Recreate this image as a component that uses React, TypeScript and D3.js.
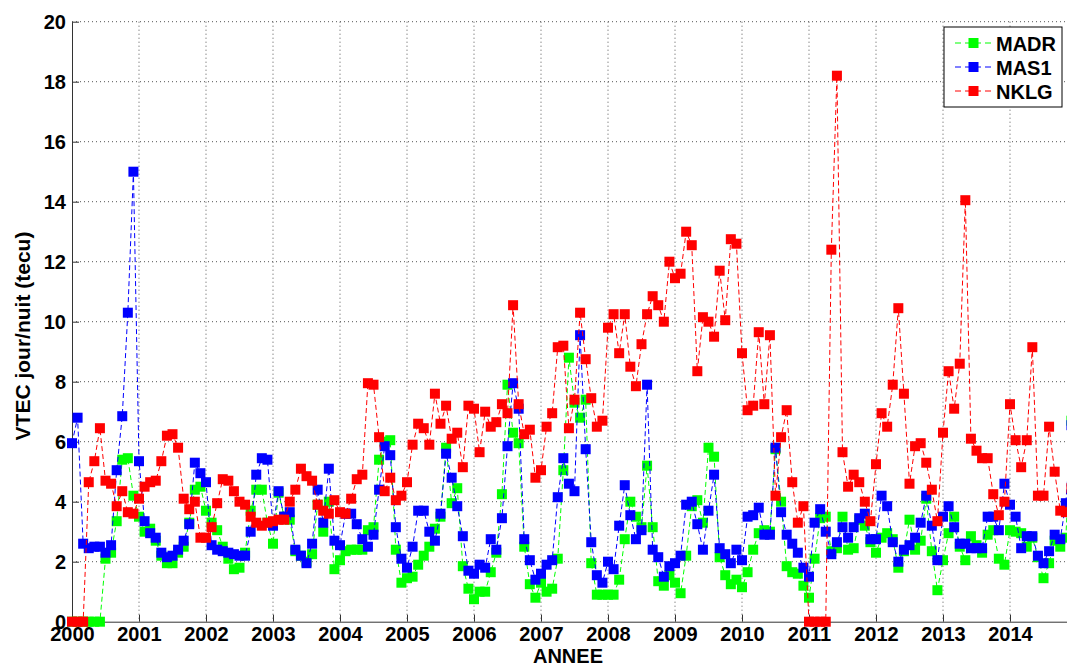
import { useEffect, useRef } from "react";
import * as d3 from "d3";

const W = 1067;
const H = 666;
const FONT = "'Liberation Sans', Arial, Helvetica, sans-serif";

// monthly values, one row per year (Jan..Dec), starting January 2000
const MADR = [
  0, 0, 0, 0, 0, 0, 2.1, 2.3, 3.35, 5.4, 5.45, 4.2,
  3.5, 3.0, 3.1, 2.7, 2.2, 1.95, 1.95, 2.3, 2.5, 3.3, 4.4, 4.5,
  3.7, 3.3, 3.05, 2.5, 2.1, 1.75, 1.8, 2.3, 3.7, 4.4, 4.4, 3.3,
  2.6, 4.3, 3.5, 3.4, 2.35, 2.2, 2.0, 2.25, 3.9, 3.0, 4.0, 1.75,
  2.05, 2.35, 2.4, 2.4, 2.4, 3.05, 3.15, 5.4, 6.0, 6.05, 2.4, 1.3,
  1.45, 1.5, 1.9, 2.2, 2.5, 3.1, 3.5, 5.8, 3.95, 4.45, 1.85, 1.1,
  0.75, 1.0, 1.0, 1.65, 2.3, 4.25, 7.9, 6.3, 5.95, 2.5, 1.25, 0.8,
  1.3, 1.0, 1.1, 2.1, 5.05, 8.8, 7.3, 6.8, 7.4, 1.95, 0.9, 0.9,
  0.9, 0.9, 1.4, 2.75, 4.0, 3.5, 3.15, 5.2, 3.15, 1.35, 1.2, 1.55,
  1.3, 0.95, 2.2, 3.85, 4.05, 3.3, 5.8, 5.5, 2.15, 1.55, 1.25, 1.4,
  1.15, 1.65, 2.4, 2.95, 3.05, 3.0, 5.75, 4.0, 1.85, 1.65, 1.6, 1.2,
  0.8, 2.1, 3.45, 3.5, 2.35, 2.45, 3.5, 2.4, 2.45, 3.4, 3.2, 2.65,
  2.3, 2.8, 2.95, 2.75, 1.8, 2.35, 3.4, 2.4, 2.7, 4.1, 2.35, 1.05,
  2.05, 2.95, 3.5, 2.5, 2.05, 2.85, 2.55, 2.3, 2.9, 3.05, 2.1, 1.9,
  3.05, 3.0, 2.95, 2.5, 2.8, 2.15, 1.45, 1.95, 2.7, 2.5, 2.8, 6.7,
];

const MAS1 = [
  5.95, 6.8, 2.6, 2.45, 2.5, 2.5, 2.3, 2.55, 5.05, 6.85, 10.3, 15.0,
  5.35, 3.35, 2.95, 2.8, 2.3, 2.15, 2.2, 2.4, 2.7, 3.25, 5.3, 4.95,
  4.65, 2.55, 2.4, 2.35, 2.3, 2.25, 2.2, 2.2, 3.0, 4.9, 5.45, 5.4,
  3.2, 4.35, 3.5, 3.65, 2.4, 2.2, 1.95, 2.6, 4.4, 3.3, 5.1, 2.7,
  2.55, 3.6, 3.6, 3.25, 2.75, 2.5, 2.9, 4.4, 5.85, 5.55, 3.15, 2.1,
  1.8, 2.5, 3.7, 3.7, 3.0, 2.7, 3.6, 5.6, 4.8, 3.85, 2.85, 1.7,
  1.6, 1.9, 1.8, 2.75, 2.4, 3.45, 5.85, 7.95, 7.1, 2.75, 2.05, 1.4,
  1.6, 1.9, 2.05, 4.15, 5.45, 4.6, 4.35, 9.55, 5.75, 2.65, 1.55, 1.3,
  2.0, 1.75, 3.2, 4.55, 3.55, 2.75, 3.05, 7.9, 2.4, 2.15, 1.5, 1.85,
  1.95, 2.2, 3.9, 4.0, 3.25, 2.4, 3.7, 4.9, 2.45, 2.25, 1.95, 2.4,
  2.05, 3.5, 3.55, 3.8, 2.9, 2.9, 5.8, 3.65, 2.9, 2.6, 2.3, 1.8,
  1.5, 3.3, 3.75, 3.0, 2.25, 2.65, 3.15, 2.8, 3.15, 3.45, 3.6, 2.75,
  2.75, 4.2, 3.85, 2.65, 2.0, 2.4, 2.55, 2.8, 3.3, 4.2, 3.2, 2.05,
  3.5, 3.85, 3.15, 2.6, 2.6, 2.45, 2.45, 2.45, 3.5, 3.5, 3.05, 4.6,
  3.9, 3.5, 2.45, 2.85, 2.85, 2.2, 1.95, 2.35, 2.9, 2.75, 3.95, 6.55,
];

const NKLG = [
  0, 0, 0, 4.65, 5.35, 6.45, 4.7, 4.6, 3.85, 4.35, 3.65, 3.6,
  4.1, 4.5, 4.65, 4.7, 5.35, 6.2, 6.25, 5.8, 4.1, 3.75, 4.0, 2.8,
  2.8, 3.15, 3.95, 4.75, 4.7, 4.35, 4.0, 3.9, 3.5, 3.3, 3.2, 3.3,
  3.35, 3.4, 3.4, 4.0, 4.4, 5.1, 4.85, 4.7, 3.9, 3.7, 3.6, 4.05,
  3.65, 3.6, 4.1, 4.75, 4.9, 7.95, 7.9, 6.15, 4.35, 4.8, 4.05, 4.2,
  4.65, 5.9, 6.6, 6.45, 5.9, 7.6, 6.6, 7.2, 6.1, 6.3, 5.15, 7.2,
  7.1, 5.65, 7.0, 6.5, 6.65, 7.25, 6.95, 10.55, 7.25, 6.25, 6.4, 4.8,
  5.05, 6.5, 6.95, 9.15, 9.2, 6.45, 7.4, 10.3, 8.75, 7.45, 6.5, 6.7,
  9.8, 10.25, 8.95, 10.25, 8.5, 7.85, 9.25, 10.25, 10.85, 10.55, 10.0, 12.0,
  11.45, 11.6, 13.0, 12.55, 8.35, 10.15, 10.0, 9.5, 11.7, 10.05, 12.75, 12.6,
  8.95, 7.05, 7.2, 9.65, 7.25, 9.55, 4.2, 6.15, 7.05, 4.65, 3.3, 3.85,
  0, 0, 0, 0, 12.4, 18.2, 5.65, 4.5, 4.9, 4.65, 4.0, 3.35,
  5.25, 6.95, 6.5, 7.9, 10.45, 7.6, 4.6, 5.85, 5.95, 5.3, 4.4, 3.35,
  6.3, 8.35, 7.1, 8.6, 14.05, 6.1, 5.7, 5.45, 5.45, 4.25, 3.55, 4.0,
  7.25, 6.05, 5.15, 6.05, 9.15, 4.2, 4.2, 6.5, 5.0, 3.7, 3.65, 4.45,
];

const SERIES = [
  { name: "MADR", values: MADR, color: "#00ff00" },
  { name: "MAS1", values: MAS1, color: "#0000ff" },
  { name: "NKLG", values: NKLG, color: "#ff0000" },
];

const YEARS = d3.range(2000, 2015);
const Y_TICKS = d3.range(0, 21, 2);

export default function App() {
  const svgRef = useRef<SVGSVGElement>(null);

  useEffect(() => {
    if (!svgRef.current) return;
    const root = d3.select(svgRef.current);
    root.selectAll("*").remove();

    const x = d3.scaleLinear().domain([2000, 2015]).range([72, 1077]);
    const y = d3.scaleLinear().domain([0, 20]).range([621.7, 21.7]);
    const [x0] = x.range();
    const [yb, yt] = y.range();

    root.append("rect").attr("width", W).attr("height", H).attr("fill", "white");

    // dotted grid
    const grid = root.append("g").attr("stroke", "#555").attr("stroke-width", 1).attr("stroke-dasharray", "1,3");
    Y_TICKS.filter((t) => t > 0).forEach((t) => {
      grid.append("line").attr("x1", x0).attr("x2", W).attr("y1", y(t)).attr("y2", y(t));
    });
    YEARS.filter((t) => t > 2000).forEach((t) => {
      grid.append("line").attr("x1", x(t)).attr("x2", x(t)).attr("y1", yt).attr("y2", yb);
    });

    // axes
    const xAxis = root
      .append("g")
      .attr("transform", `translate(0,${yb})`)
      .call(d3.axisBottom(x).tickValues(YEARS).tickFormat(d3.format("d")).tickSize(-7).tickSizeOuter(0).tickPadding(5));
    const yAxis = root
      .append("g")
      .attr("transform", `translate(${x0},0)`)
      .call(d3.axisLeft(y).tickValues(Y_TICKS).tickFormat(d3.format("d")).tickSize(-7).tickSizeOuter(0).tickPadding(6));
    [xAxis, yAxis].forEach((g) => {
      g.attr("font-family", FONT).attr("font-size", 20).attr("font-weight", "bold");
      g.selectAll("text").attr("fill", "#000");
      g.selectAll("line").attr("stroke", "#333");
      g.select(".domain").attr("stroke", "#333");
    });

    // series: dashed line then square markers, in plotting order
    const M = 10;
    SERIES.forEach((s) => {
      const pts = s.values.map((v, i) => [2000 + i / 12, v] as [number, number]);
      const line = d3
        .line<[number, number]>()
        .x((d) => x(d[0]))
        .y((d) => y(d[1]));
      root
        .append("path")
        .attr("d", line(pts))
        .attr("fill", "none")
        .attr("stroke", s.color)
        .attr("stroke-width", 1)
        .attr("stroke-dasharray", "5,3");
      root
        .append("g")
        .selectAll("rect")
        .data(pts)
        .join("rect")
        .attr("x", (d) => x(d[0]) - M / 2)
        .attr("y", (d) => y(d[1]) - M / 2)
        .attr("width", M)
        .attr("height", M)
        .attr("fill", s.color);
    });

    // axis titles
    root
      .append("text")
      .attr("x", 568)
      .attr("y", 662.5)
      .attr("text-anchor", "middle")
      .attr("font-family", FONT)
      .attr("font-size", 20)
      .attr("font-weight", "bold")
      .text("ANNEE");
    root
      .append("text")
      .attr("transform", "translate(30,336) rotate(-90)")
      .attr("text-anchor", "middle")
      .attr("font-family", FONT)
      .attr("font-size", 21)
      .attr("font-weight", "bold")
      .text("VTEC jour/nuit (tecu)");

    // legend
    const lg = root.append("g");
    lg.append("rect")
      .attr("x", 944)
      .attr("y", 27)
      .attr("width", 118)
      .attr("height", 80)
      .attr("fill", "white")
      .attr("stroke", "#000")
      .attr("stroke-width", 1);
    const rowY = [43, 67, 91];
    SERIES.forEach((s, i) => {
      const cy = rowY[i];
      lg.append("line")
        .attr("x1", 955)
        .attr("x2", 992)
        .attr("y1", cy)
        .attr("y2", cy)
        .attr("stroke", s.color)
        .attr("stroke-dasharray", "6,4");
      lg.append("rect")
        .attr("x", 973.5 - M / 2)
        .attr("y", cy - M / 2)
        .attr("width", M)
        .attr("height", M)
        .attr("fill", s.color);
      lg.append("text")
        .attr("x", 996)
        .attr("y", cy + 7.5)
        .attr("font-family", FONT)
        .attr("font-size", 20)
        .attr("font-weight", "bold")
        .text(s.name);
    });
  }, []);

  return (
    <svg
      ref={svgRef}
      width={W}
      height={H}
      viewBox={`0 0 ${W} ${H}`}
      style={{ position: "absolute", left: 0, top: 0 }}
    />
  );
}
